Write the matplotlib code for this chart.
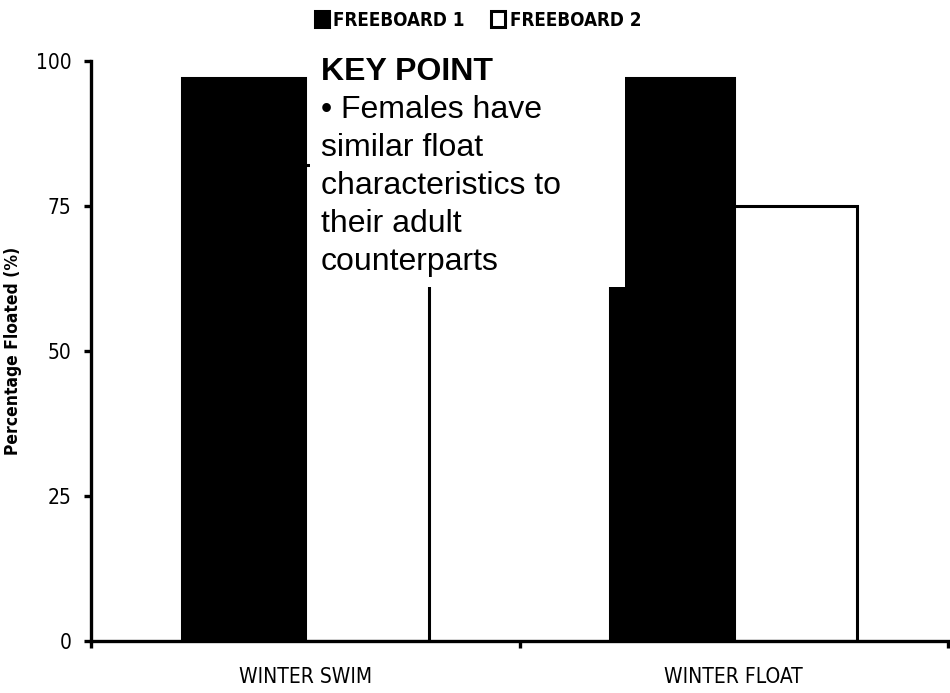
import matplotlib
matplotlib.use('Agg')
import matplotlib.pyplot as plt
from matplotlib.patches import Rectangle

# data
categories = ['WINTER SWIM', 'WINTER FLOAT']
freeboard_1 = [97, 97]
freeboard_2 = [82, 75]   # swim bar top only peeks out beside the key point box
series_names = ['FREEBOARD 1', 'FREEBOARD 2']
y_ticks = [0, 25, 50, 75, 100]

key_title = 'KEY POINT'
key_lines = ['\u2022 Females have', 'similar float', 'characteristics to',
             'their adult', 'counterparts']

narrow = dict(family='DejaVu Sans', stretch='condensed')
arial = ['Liberation Sans', 'DejaVu Sans']

W, H = 950, 693
fig = plt.figure(figsize=(W / 100, H / 100), dpi=100)
ax = fig.add_axes([91 / W, 1 - 641 / H, (948 - 91) / W, (641 - 61) / H])

centers = [i + 0.5 for i in range(len(categories))]
bw = 0.288
b1 = ax.bar([c - bw / 2 for c in centers], freeboard_1, bw, color='black',
            edgecolor='black', linewidth=2.2, label=series_names[0])
b2 = ax.bar([c + bw / 2 for c in centers], freeboard_2, bw, color='white',
            edgecolor='black', linewidth=2.2, label=series_names[1])

ax.set_xlim(0, len(categories))
ax.set_ylim(0, 100)
ax.set_yticks(y_ticks)
ax.set_yticklabels([str(t) for t in y_ticks], fontsize=15, **narrow)
ax.set_xticks(range(len(categories) + 1))
ax.set_xticklabels([])
ax.set_xticks(centers, minor=True)
ax.set_xticklabels(categories, minor=True, fontsize=15, **narrow)
ax.tick_params(axis='x', which='minor', length=0, pad=19)
ax.tick_params(axis='x', which='major', length=5, width=2.4, direction='out')
ax.tick_params(axis='y', length=5, width=2.4, direction='out', pad=9)

for s in ['top', 'right']:
    ax.spines[s].set_visible(False)
for s in ['left', 'bottom']:
    ax.spines[s].set_linewidth(2.4)

ax.set_ylabel('Percentage Floated (%)', fontsize=12.5, fontweight='bold',
              labelpad=10, **narrow)

fig.legend(handles=[b1, b2], loc='center', bbox_to_anchor=(478 / W, 1 - 20 / H),
           ncol=2, frameon=False,
           prop={'family': 'DejaVu Sans', 'stretch': 'condensed',
                 'weight': 'bold', 'size': 13.5},
           handlelength=0.75, handleheight=0.9, handletextpad=0.25,
           columnspacing=1.4, borderpad=0)

# key point box covering part of the chart
x0 = (310 - 91) / 428.5
x1 = (625 - 91) / 428.5
ax.add_patch(Rectangle((x0, 61), x1 - x0, 39, facecolor='white',
                       edgecolor='none', zorder=5, clip_on=False))

fig.text(321 / W, 1 - 80 / H, key_title, family=arial, fontsize=23,
         fontweight='bold', va='baseline', ha='left')
for i, line in enumerate(key_lines):
    fig.text(321 / W, 1 - (118 + 38 * i) / H, line, family=arial, fontsize=23,
             va='baseline', ha='left')

fig.savefig('out.png', dpi=100)
